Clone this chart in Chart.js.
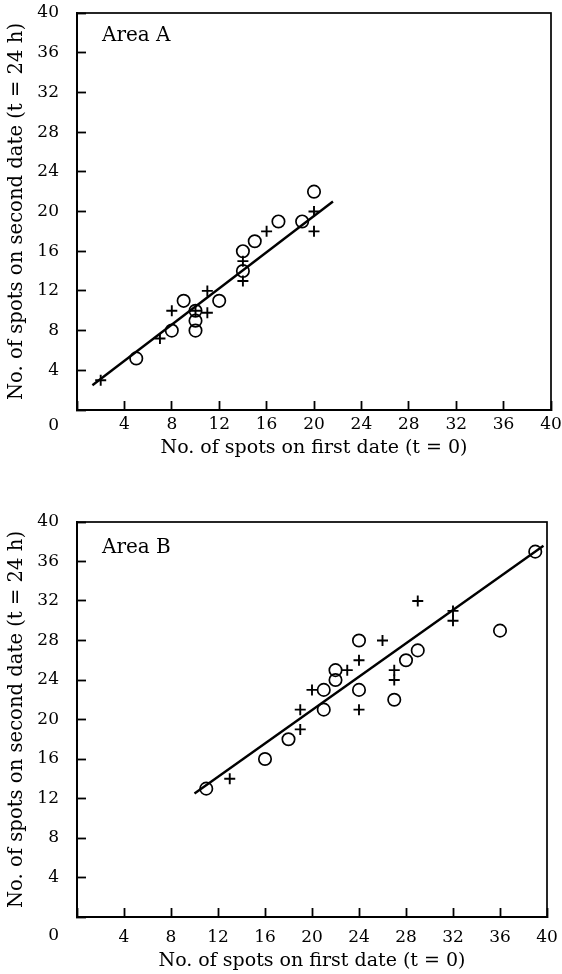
<!DOCTYPE html>
<html><head><meta charset="utf-8">
<script src="https://cdn.jsdelivr.net/npm/chart.js@4/dist/chart.umd.min.js"></script>
<style>
html,body{margin:0;padding:0;background:#fff;}
body{width:562px;height:974px;position:relative;overflow:hidden;}
.box{position:absolute;left:0;width:562px;}
#wa{top:0;height:465px;}
#wb{top:505px;height:469px;}
</style></head><body>
<div class="box" id="wa"><canvas id="ca"></canvas></div>
<div class="box" id="wb"><canvas id="cb"></canvas></div>
<script>
// ---- data ----
const tickValues = [0, 4, 8, 12, 16, 20, 24, 28, 32, 36, 40];
const xTitle = 'No. of spots on first date (t = 0)';
const yTitle = 'No. of spots on second date (t = 24 h)';

// Area A
const areaA_circleX = [5, 8, 9, 10, 10, 10, 12, 14, 14, 15, 17, 19, 20];
const areaA_circleY = [5.2, 8, 11, 10, 9, 8, 11, 14, 16, 17, 19, 19, 22];
const areaA_crossX = [2, 7, 8, 10, 11, 11, 14, 14, 16, 20, 20];
const areaA_crossY = [3, 7.2, 10, 10, 9.8, 12, 15, 13, 18, 20, 18];
const areaA_lineX = [1.3, 21.6];
const areaA_lineY = [2.5, 21.0];

// Area B
const areaB_circleX = [11, 16, 18, 21, 21, 22, 22, 24, 24, 27, 28, 29, 36, 39];
const areaB_circleY = [13, 16, 18, 23, 21, 24, 25, 28, 23, 22, 26, 27, 29, 37];
const areaB_crossX = [13, 19, 19, 20, 23, 24, 24, 26, 27, 27, 29, 32, 32];
const areaB_crossY = [14, 19, 21, 23, 25, 26, 21, 28, 25, 24, 32, 31, 30];
const areaB_lineX = [10, 39.7];
const areaB_lineY = [12.5, 37.6];

// ---- helpers ----
const FONT = "'DejaVu Serif', 'Liberation Serif', serif";
const INK = '#000';
const pts = (xs, ys) => xs.map((x, i) => ({x: x, y: ys[i]}));
const noPad = s => { s.paddingTop = 0; s.paddingBottom = 0; s.paddingLeft = 0; s.paddingRight = 0; };

const framePlugin = {
  id: 'frame',
  afterDraw(chart, args, opts) {
    const {ctx, chartArea: a} = chart;
    ctx.save();
    ctx.strokeStyle = INK;
    ctx.lineWidth = 1.7;
    ctx.strokeRect(a.left, a.top, a.right - a.left, a.bottom - a.top);
    ctx.fillStyle = INK;
    ctx.font = "20px " + FONT;
    ctx.textAlign = 'left';
    ctx.textBaseline = 'middle';
    ctx.fillText(opts.label, a.left + 25, a.top + opts.labelDy);
    ctx.restore();
  }
};

function makeChart(id, cx, cy, kx, ky, lx, ly, cfg) {
  return new Chart(document.getElementById(id), {
    type: 'scatter',
    data: {
      datasets: [
        {data: pts(lx, ly), showLine: true, pointRadius: 0, borderColor: INK, borderWidth: 2.4, order: 3},
        {data: pts(cx, cy), pointStyle: 'circle', pointRadius: 6.2, borderColor: INK,
         backgroundColor: 'rgba(255,255,255,0)', pointBorderWidth: 1.7, order: 1},
        {data: pts(kx, ky), pointStyle: 'cross', pointRadius: 5.5, borderColor: INK,
         pointBorderWidth: 1.9, order: 2}
      ]
    },
    plugins: [framePlugin],
    options: {
      responsive: true,
      maintainAspectRatio: false,
      animation: false,
      layout: {padding: {top: cfg.padTop, right: cfg.padRight, bottom: 0, left: 0}},
      plugins: {
        legend: {display: false},
        tooltip: {enabled: false},
        frame: {label: cfg.label, labelDy: cfg.labelDy}
      },
      scales: {
        x: {
          type: 'linear', min: 0, max: 40,
          afterBuildTicks: s => { s.ticks = tickValues.map(v => ({value: v})); },
          afterFit: s => { s.height = cfg.xHeight; noPad(s); },
          ticks: {
            color: INK, padding: cfg.xTickPad, maxRotation: 0, autoSkip: false,
            font: {family: FONT, size: 17},
            callback: v => v === 0 ? '' : String(v)
          },
          grid: {drawOnChartArea: false, drawTicks: true, tickLength: -9, tickWidth: 1.8, tickColor: INK},
          border: {display: true, width: 2, color: INK},
          title: {display: true, text: xTitle, color: INK, font: {family: FONT, size: 19},
                  padding: {top: 0, bottom: cfg.xTitlePad}}
        },
        y: {
          type: 'linear', min: 0, max: 40,
          afterBuildTicks: s => { s.ticks = tickValues.map(v => ({value: v})); },
          afterFit: s => { s.width = 77; noPad(s); },
          ticks: {
            color: INK, padding: 27, autoSkip: false,
            font: c => ({family: FONT, size: 17, lineHeight: (c.tick && c.tick.value === 0) ? cfg.zeroLH / 17 : 1.2}),
            callback: v => v === 0 ? ['', '0'] : String(v)
          },
          grid: {drawOnChartArea: false, drawTicks: true, tickLength: -9, tickWidth: 1.8, tickColor: INK},
          border: {display: true, width: 2, color: INK},
          title: {display: true, text: yTitle, color: INK, font: {family: FONT, size: 19.6},
                  padding: {top: 5.2, bottom: 0}}
        }
      }
    }
  });
}

makeChart('ca', areaA_circleX, areaA_circleY, areaA_crossX, areaA_crossY, areaA_lineX, areaA_lineY,
  {label: 'Area A', padTop: 13, padRight: 11, xHeight: 55, xTickPad: 13, xTitlePad: 6, labelDy: 23, zeroLH: 32});
makeChart('cb', areaB_circleX, areaB_circleY, areaB_crossX, areaB_crossY, areaB_lineX, areaB_lineY,
  {label: 'Area B', padTop: 17, padRight: 15, xHeight: 57, xTickPad: 19, xTitlePad: 2, labelDy: 26, zeroLH: 38});
</script>
</body></html>
